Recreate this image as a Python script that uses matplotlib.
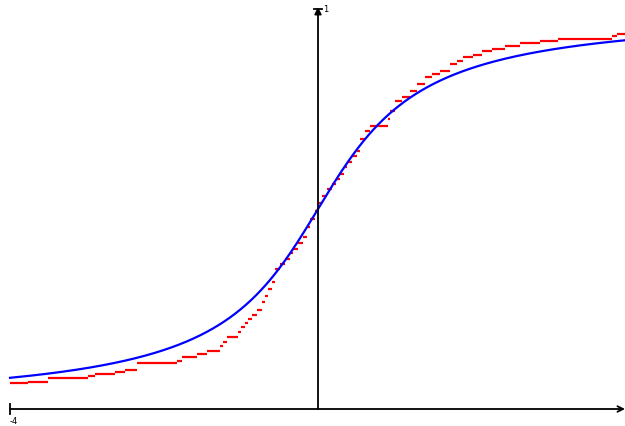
import numpy as np
import matplotlib
matplotlib.use("Agg")
import matplotlib.pyplot as plt

# Blue curve: Cauchy CDF (loc 0, scale 1)
cdf_loc = 0.0
cdf_scale = 1.0

ecdf_x = [-4.00, -3.77, -3.51, -2.99, -2.90, -2.64, -2.51, -2.35, -1.83, -1.77,
          -1.57, -1.44, -1.27, -1.23, -1.18, -1.04, -1.00, -0.95, -0.91, -0.86,
          -0.79, -0.73, -0.69, -0.65, -0.60, -0.56, -0.49, -0.43, -0.36, -0.32,
          -0.26, -0.19, -0.14, -0.10, -0.04, 0.00, 0.05, 0.12, 0.18, 0.23,
          0.29, 0.34, 0.38, 0.44, 0.51, 0.55, 0.61, 0.68, 0.91, 0.94,
          1.00, 1.09, 1.19, 1.29, 1.39, 1.48, 1.58, 1.71, 1.81, 1.88,
          2.01, 2.13, 2.26, 2.43, 2.62, 2.88, 3.12, 3.82, 3.88]
ecdf_y = [0.064, 0.068, 0.077, 0.082, 0.087, 0.093, 0.098, 0.114, 0.121, 0.129,
          0.138, 0.145, 0.158, 0.168, 0.180, 0.193, 0.205, 0.215, 0.225, 0.235,
          0.248, 0.268, 0.283, 0.300, 0.318, 0.350, 0.363, 0.375, 0.390, 0.400,
          0.415, 0.430, 0.455, 0.475, 0.495, 0.515, 0.533, 0.550, 0.563, 0.575,
          0.588, 0.605, 0.618, 0.633, 0.645, 0.675, 0.695, 0.708, 0.725, 0.745,
          0.770, 0.780, 0.795, 0.813, 0.830, 0.838, 0.845, 0.863, 0.870, 0.880,
          0.885, 0.895, 0.900, 0.908, 0.915, 0.920, 0.925, 0.932, 0.938]
x_end = 3.99

tick_x_label = "-4"
tick_y_label = "1"

W, H = 625, 427
fig = plt.figure(figsize=(W / 100, H / 100), dpi=100)
ax = fig.add_axes([0, 0, 1, 1])
ax.set_xlim(-318 / 77, 307 / 77)
ax.set_ylim(-17 / 400, 410 / 400)
ax.axis("off")

# blue Cauchy CDF
xs = np.linspace(-4, 4, 800)
ys = 0.5 + np.arctan((xs - cdf_loc) / cdf_scale) / np.pi
ax.plot(xs, ys, color="#0000ff", lw=1.6, zorder=3)

# red empirical CDF as horizontal segments
starts = np.array(ecdf_x)
ends = np.append(starts[1:], x_end)
ax.hlines(ecdf_y, starts, ends, color="#ff0000", lw=1.6, zorder=2)

# axes
ax.annotate("", xy=(307 / 77, 0), xytext=(-4, 0),
            arrowprops=dict(arrowstyle="->", color="black", lw=1.3,
                            mutation_scale=10, shrinkA=0, shrinkB=0), zorder=4)
ax.annotate("", xy=(0, 402 / 400), xytext=(0, 0),
            arrowprops=dict(arrowstyle="-|>", color="black", lw=1.3,
                            mutation_scale=10, shrinkA=0, shrinkB=0), zorder=4)
# ticks
ax.plot([-4, -4], [-0.012, 0.012], color="black", lw=1.3, zorder=4)
ax.plot([-0.05, 0.05], [1.0, 1.0], color="black", lw=1.3, zorder=4)
ax.text(-4.0, -0.018, tick_x_label, fontsize=6, ha="left", va="top")
ax.text(0.06, 1.0, tick_y_label, fontsize=6, ha="left", va="center")

fig.savefig("out.png", dpi=100)
